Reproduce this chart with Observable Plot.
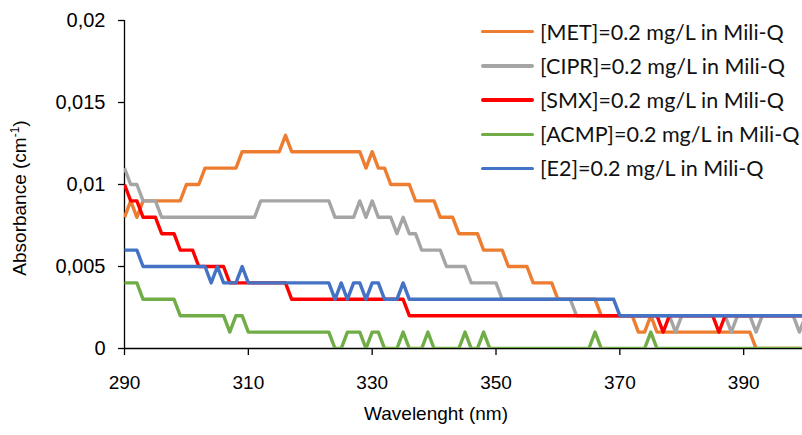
<!DOCTYPE html>
<html>
<head>
<meta charset="utf-8">
<script src="https://cdn.jsdelivr.net/npm/d3@7"></script>
<script src="https://cdn.jsdelivr.net/npm/@observablehq/plot@0.6"></script>
<style>
  body { margin: 0; background: #fff; }
  #wrap { position: relative; width: 802px; height: 435px; overflow: hidden; }
  .axlab { position: absolute; font-family: 'Liberation Sans', Arial, sans-serif; font-size: 19px; color: #000; white-space: nowrap; line-height: 22px; }
  #xlab { left: 436px; top: 403px; transform: translateX(-50%); }
  #ylab { left: 20px; top: 198px; transform: translate(-50%, -50%) rotate(-90deg); }
  #ylab sup { font-size: 12px; vertical-align: 7px; line-height: 0; }
  #legend { position: absolute; left: 481px; top: 14.6px; font-family: Lato, 'Open Sans', sans-serif; font-size: 21.5px; color: #111; }
  .lrow { display: flex; align-items: center; height: 34.2px; white-space: nowrap; }
  .sw { width: 53px; height: 3.5px; margin-right: 6px; border-radius: 2px; }
</style>
</head>
<body>
<div id="wrap">
  <div id="ylab" class="axlab">Absorbance (cm<sup>-1</sup>)</div>
  <div id="xlab" class="axlab">Wavelenght (nm)</div>
  <div id="legend"></div>
</div>
<script>
const wavelengths = [
  290,291,292,293,294,295,296,297,298,299,
  300,301,302,303,304,305,306,307,308,309,
  310,311,312,313,314,315,316,317,318,319,
  320,321,322,323,324,325,326,327,328,329,
  330,331,332,333,334,335,336,337,338,339,
  340,341,342,343,344,345,346,347,348,349,
  350,351,352,353,354,355,356,357,358,359,
  360,361,362,363,364,365,366,367,368,369,
  370,371,372,373,374,375,376,377,378,379,
  380,381,382,383,384,385,386,387,388,389,
  390,391,392,393,394,395,396,397,398,399,
  400
];

const seriesNames = [
  "[MET]=0.2 mg/L in Mili-Q",
  "[CIPR]=0.2 mg/L in Mili-Q",
  "[SMX]=0.2 mg/L in Mili-Q",
  "[ACMP]=0.2 mg/L in Mili-Q",
  "[E2]=0.2 mg/L in Mili-Q"
];
const seriesColors = ["#ED7D31", "#A5A5A5", "#FF0000", "#70AD47", "#4472C4"];

const met = [
  .008,.009,.008,.009,.009,.009,.009,.009,.009,.009,
  .010,.010,.010,.011,.011,.011,.011,.011,.011,.012,
  .012,.012,.012,.012,.012,.012,.013,.012,.012,.012,
  .012,.012,.012,.012,.012,.012,.012,.012,.012,.011,
  .012,.011,.011,.010,.010,.010,.010,.009,.009,.009,
  .009,.008,.008,.008,.007,.007,.007,.007,.006,.006,
  .006,.006,.005,.005,.005,.005,.004,.004,.004,.004,
  .003,.003,.003,.003,.003,.003,.003,.002,.002,.002,
  .002,.002,.002,.001,.001,.002,.001,.001,.001,.001,
  .001,.001,.001,.001,.001,.001,.001,.001,.001,.001,
  .001,.001,0,0,0,0,0,0,0,0,
  0
];
const cipr = [
  .011,.010,.010,.009,.009,.009,.008,.008,.008,.008,
  .008,.008,.008,.008,.008,.008,.008,.008,.008,.008,
  .008,.008,.009,.009,.009,.009,.009,.009,.009,.009,
  .009,.009,.009,.009,.008,.008,.008,.008,.009,.008,
  .009,.008,.008,.008,.007,.008,.007,.007,.006,.006,
  .006,.006,.005,.005,.005,.005,.004,.004,.004,.004,
  .004,.003,.003,.003,.003,.003,.003,.003,.003,.003,
  .003,.003,.003,.002,.002,.002,.002,.002,.002,.002,
  .002,.002,.002,.002,.002,.002,.002,.002,.002,.001,
  .002,.002,.002,.002,.002,.002,.002,.002,.001,.002,
  .002,.002,.001,.002,.002,.002,.002,.002,.002,.001,
  .002
];
const smx = [
  .010,.009,.009,.008,.008,.008,.007,.007,.007,.006,
  .006,.006,.005,.005,.005,.005,.005,.004,.004,.004,
  .004,.004,.004,.004,.004,.004,.004,.003,.003,.003,
  .003,.003,.003,.003,.003,.003,.003,.003,.003,.003,
  .003,.003,.003,.003,.003,.003,.002,.002,.002,.002,
  .002,.002,.002,.002,.002,.002,.002,.002,.002,.002,
  .002,.002,.002,.002,.002,.002,.002,.002,.002,.002,
  .002,.002,.002,.002,.002,.002,.002,.002,.002,.002,
  .002,.002,.002,.002,.002,.002,.002,.001,.002,.002,
  .002,.002,.002,.002,.002,.002,.001,.002,.002,.002,
  .002,.002,.002,.002,.002,.002,.002,.002,.002,.002,
  .002
];
const acmp = [
  .004,.004,.004,.003,.003,.003,.003,.003,.003,.002,
  .002,.002,.002,.002,.002,.002,.002,.001,.002,.002,
  .001,.001,.001,.001,.001,.001,.001,.001,.001,.001,
  .001,.001,.001,.001,0,0,.001,.001,.001,0,
  .001,.001,0,0,0,.001,0,0,0,.001,
  0,0,0,0,0,.001,0,0,.001,0,
  0,0,0,0,0,0,0,0,0,0,
  0,0,0,0,0,0,.001,0,0,0,
  0,0,0,0,0,.001,0,0,0,0,
  0,0,0,0,0,0,0,0,0,0,
  0,0,0,0,0,0,0,0,0,0,
  0
];
const e2 = [
  .006,.006,.006,.005,.005,.005,.005,.005,.005,.005,
  .005,.005,.005,.005,.004,.005,.004,.004,.004,.005,
  .004,.004,.004,.004,.004,.004,.004,.004,.004,.004,
  .004,.004,.004,.004,.003,.004,.003,.004,.004,.003,
  .004,.004,.003,.003,.003,.004,.003,.003,.003,.003,
  .003,.003,.003,.003,.003,.003,.003,.003,.003,.003,
  .003,.003,.003,.003,.003,.003,.003,.003,.003,.003,
  .003,.003,.003,.003,.003,.003,.003,.003,.003,.003,
  .002,.002,.002,.002,.002,.002,.002,.002,.002,.002,
  .002,.002,.002,.002,.002,.002,.002,.002,.002,.002,
  .002,.002,.002,.002,.002,.002,.002,.002,.002,.002,
  .002
];

const xTicks = [290, 310, 330, 350, 370, 390];
const yTicks = [0, 0.005, 0.01, 0.015, 0.02];

const seriesValues = [met, cipr, smx, acmp, e2];
const rows = [];
seriesValues.forEach((vals, i) => {
  vals.forEach((v, j) => rows.push({wl: wavelengths[j], abs: v, series: seriesNames[i]}));
});

const chart = Plot.plot({
  width: 802,
  height: 435,
  marginLeft: 124,
  marginRight: 0,
  marginTop: 20,
  marginBottom: 87,
  style: {fontFamily: "'Liberation Sans', Arial, sans-serif", fontSize: "19px", color: "#000", background: "white"},
  x: {domain: [290, 399.5], label: null},
  y: {domain: [0, 0.02], label: null},
  color: {domain: seriesNames, range: seriesColors},
  marks: [
    Plot.axisX({ticks: xTicks, tickSize: 7, tickPadding: 20, strokeWidth: 1.3, label: null, fontSize: 19}),
    Plot.axisY({ticks: yTicks, tickSize: 6, tickPadding: 13, strokeWidth: 1.3, label: null, fontSize: 20,
      tickFormat: d => String(d).replace(".", ",")}),
    Plot.ruleY([0], {stroke: "#000", strokeWidth: 1.3}),
    Plot.ruleX([290], {stroke: "#000", strokeWidth: 1.3}),
    Plot.line(rows, {x: "wl", y: "abs", z: "series", stroke: "series", strokeWidth: 3.4,
      strokeLinejoin: "round", strokeLinecap: "butt", clip: true})
  ]
});
const wrap = document.getElementById("wrap");
wrap.insertBefore(chart, wrap.firstChild);

const legend = document.getElementById("legend");
seriesNames.forEach((name, i) => {
  const row = document.createElement("div");
  row.className = "lrow";
  const sw = document.createElement("div");
  sw.className = "sw";
  sw.style.background = seriesColors[i];
  const t = document.createElement("span");
  t.textContent = name;
  row.appendChild(sw);
  row.appendChild(t);
  legend.appendChild(row);
});
</script>
</body>
</html>
